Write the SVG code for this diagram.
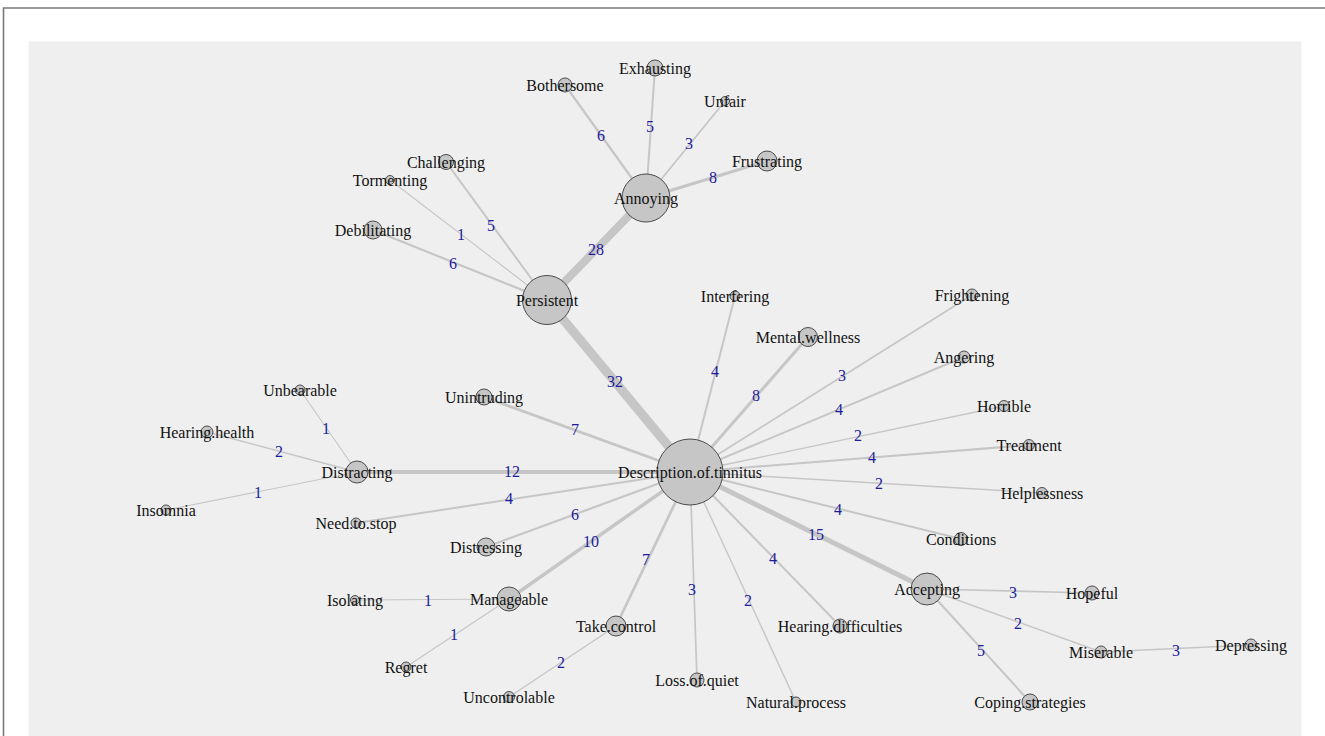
<svg xmlns="http://www.w3.org/2000/svg" width="1325" height="736" viewBox="0 0 1325 736">
<style>
.e{stroke:#c6c6c6;fill:none;stroke-linecap:butt}
.el{font-family:"Liberation Serif",serif;font-size:16px;fill:#1c1c9c;text-anchor:middle;dominant-baseline:central}
.n{fill:#c6c6c6;stroke:#3a3a3a;stroke-width:0.9}
.nl{font-family:"Liberation Serif",serif;font-size:16px;fill:#111;text-anchor:middle;dominant-baseline:central}
</style>
<rect x="0" y="0" width="1325" height="736" fill="#ffffff"/>
<path d="M3.5,736 V8 H1325" fill="none" stroke="#7a7a7a" stroke-width="1.6"/>
<rect x="28.5" y="41.5" width="1273" height="700" fill="#efefef"/>
<g id="connectors">
<line class="e" x1="547" y1="300" x2="646" y2="198" stroke-width="8"/>
<line class="e" x1="547" y1="300" x2="690" y2="472" stroke-width="9"/>
<line class="e" x1="646" y1="198" x2="565" y2="85" stroke-width="2.2"/>
<line class="e" x1="646" y1="198" x2="655" y2="68" stroke-width="2"/>
<line class="e" x1="646" y1="198" x2="725" y2="101" stroke-width="1.7"/>
<line class="e" x1="646" y1="198" x2="767" y2="161" stroke-width="3"/>
<line class="e" x1="547" y1="300" x2="446" y2="162" stroke-width="2"/>
<line class="e" x1="547" y1="300" x2="390" y2="180" stroke-width="1.1"/>
<line class="e" x1="547" y1="300" x2="373" y2="230" stroke-width="2.2"/>
<line class="e" x1="690" y1="472" x2="735" y2="296" stroke-width="2"/>
<line class="e" x1="690" y1="472" x2="808" y2="337" stroke-width="3"/>
<line class="e" x1="690" y1="472" x2="972" y2="295" stroke-width="1.7"/>
<line class="e" x1="690" y1="472" x2="964" y2="357" stroke-width="2"/>
<line class="e" x1="690" y1="472" x2="1004" y2="406" stroke-width="1.4"/>
<line class="e" x1="690" y1="472" x2="1029" y2="445" stroke-width="2"/>
<line class="e" x1="690" y1="472" x2="1042" y2="493" stroke-width="1.4"/>
<line class="e" x1="690" y1="472" x2="961" y2="539" stroke-width="2"/>
<line class="e" x1="690" y1="472" x2="927" y2="589" stroke-width="5"/>
<line class="e" x1="690" y1="472" x2="840" y2="626" stroke-width="2"/>
<line class="e" x1="690" y1="472" x2="796" y2="702" stroke-width="1.4"/>
<line class="e" x1="690" y1="472" x2="697" y2="680" stroke-width="1.7"/>
<line class="e" x1="690" y1="472" x2="616" y2="626" stroke-width="2.7"/>
<line class="e" x1="690" y1="472" x2="509" y2="599" stroke-width="3.5"/>
<line class="e" x1="690" y1="472" x2="486" y2="547" stroke-width="2.2"/>
<line class="e" x1="690" y1="472" x2="356" y2="523" stroke-width="2"/>
<line class="e" x1="690" y1="472" x2="357" y2="472" stroke-width="4"/>
<line class="e" x1="690" y1="472" x2="484" y2="397" stroke-width="2.7"/>
<line class="e" x1="357" y1="472" x2="300" y2="390" stroke-width="1.1"/>
<line class="e" x1="357" y1="472" x2="207" y2="432" stroke-width="1.4"/>
<line class="e" x1="357" y1="472" x2="166" y2="510" stroke-width="1.1"/>
<line class="e" x1="509" y1="599" x2="355" y2="600" stroke-width="1.1"/>
<line class="e" x1="509" y1="599" x2="406" y2="667" stroke-width="1.1"/>
<line class="e" x1="616" y1="626" x2="509" y2="697" stroke-width="1.4"/>
<line class="e" x1="927" y1="589" x2="1092" y2="593" stroke-width="1.7"/>
<line class="e" x1="927" y1="589" x2="1101" y2="652" stroke-width="1.4"/>
<line class="e" x1="927" y1="589" x2="1030" y2="702" stroke-width="2"/>
<line class="e" x1="1101" y1="652" x2="1251" y2="645" stroke-width="1.7"/>
<text class="el" x="596" y="249">28</text>
<text class="el" x="615" y="381">32</text>
<text class="el" x="601" y="135">6</text>
<text class="el" x="650" y="126">5</text>
<text class="el" x="689" y="143">3</text>
<text class="el" x="713" y="177">8</text>
<text class="el" x="491" y="225">5</text>
<text class="el" x="461" y="234">1</text>
<text class="el" x="453" y="263">6</text>
<text class="el" x="715" y="371">4</text>
<text class="el" x="756" y="395">8</text>
<text class="el" x="842" y="375">3</text>
<text class="el" x="839" y="409">4</text>
<text class="el" x="858" y="435">2</text>
<text class="el" x="872" y="457">4</text>
<text class="el" x="879" y="483">2</text>
<text class="el" x="838" y="509">4</text>
<text class="el" x="816" y="534">15</text>
<text class="el" x="773" y="558">4</text>
<text class="el" x="748" y="600">2</text>
<text class="el" x="692" y="589">3</text>
<text class="el" x="646" y="559">7</text>
<text class="el" x="591" y="541">10</text>
<text class="el" x="575" y="514">6</text>
<text class="el" x="509" y="498">4</text>
<text class="el" x="512" y="471">12</text>
<text class="el" x="575" y="429">7</text>
<text class="el" x="326" y="428">1</text>
<text class="el" x="279" y="451">2</text>
<text class="el" x="258" y="492">1</text>
<text class="el" x="428" y="600">1</text>
<text class="el" x="454" y="634">1</text>
<text class="el" x="561" y="662">2</text>
<text class="el" x="1013" y="592">3</text>
<text class="el" x="1018" y="623">2</text>
<text class="el" x="981" y="650">5</text>
<text class="el" x="1176" y="650">3</text>
</g>
<g id="n-description"><circle class="n" cx="690" cy="472" r="33"/><text class="nl" x="690" y="472">Description.of.tinnitus</text></g>
<g id="n-persistent"><circle class="n" cx="547" cy="300" r="24.5"/><text class="nl" x="547" y="300">Persistent</text></g>
<g id="n-annoying"><circle class="n" cx="646" cy="198" r="24"/><text class="nl" x="646" y="198">Annoying</text></g>
<g id="n-exhausting"><circle class="n" cx="655" cy="68" r="8"/><text class="nl" x="655" y="68">Exhausting</text></g>
<g id="n-bothersome"><circle class="n" cx="565" cy="85" r="7"/><text class="nl" x="565" y="85">Bothersome</text></g>
<g id="n-unfair"><circle class="n" cx="725" cy="101" r="4.5"/><text class="nl" x="725" y="101">Unfair</text></g>
<g id="n-frustrating"><circle class="n" cx="767" cy="161" r="10"/><text class="nl" x="767" y="161">Frustrating</text></g>
<g id="n-challenging"><circle class="n" cx="446" cy="162" r="7.5"/><text class="nl" x="446" y="162">Challenging</text></g>
<g id="n-tormenting"><circle class="n" cx="390" cy="180" r="4.5"/><text class="nl" x="390" y="180">Tormenting</text></g>
<g id="n-debilitating"><circle class="n" cx="373" cy="230" r="9"/><text class="nl" x="373" y="230">Debilitating</text></g>
<g id="n-interfering"><circle class="n" cx="735" cy="296" r="5"/><text class="nl" x="735" y="296">Interfering</text></g>
<g id="n-mental-wellness"><circle class="n" cx="808" cy="337" r="9.5"/><text class="nl" x="808" y="337">Mental.wellness</text></g>
<g id="n-frightening"><circle class="n" cx="972" cy="295" r="6"/><text class="nl" x="972" y="295">Frightening</text></g>
<g id="n-angering"><circle class="n" cx="964" cy="357" r="6"/><text class="nl" x="964" y="357">Angering</text></g>
<g id="n-horrible"><circle class="n" cx="1004" cy="406" r="5.5"/><text class="nl" x="1004" y="406">Horrible</text></g>
<g id="n-treatment"><circle class="n" cx="1029" cy="445" r="5.5"/><text class="nl" x="1029" y="445">Treatment</text></g>
<g id="n-helplessness"><circle class="n" cx="1042" cy="493" r="5.5"/><text class="nl" x="1042" y="493">Helplessness</text></g>
<g id="n-conditions"><circle class="n" cx="961" cy="539" r="6.5"/><text class="nl" x="961" y="539">Conditions</text></g>
<g id="n-accepting"><circle class="n" cx="927" cy="589" r="16"/><text class="nl" x="927" y="589">Accepting</text></g>
<g id="n-hopeful"><circle class="n" cx="1092" cy="593" r="7"/><text class="nl" x="1092" y="593">Hopeful</text></g>
<g id="n-miserable"><circle class="n" cx="1101" cy="652" r="6"/><text class="nl" x="1101" y="652">Miserable</text></g>
<g id="n-depressing"><circle class="n" cx="1251" cy="645" r="6"/><text class="nl" x="1251" y="645">Depressing</text></g>
<g id="n-coping-strategies"><circle class="n" cx="1030" cy="702" r="8"/><text class="nl" x="1030" y="702">Coping.strategies</text></g>
<g id="n-hearing-difficulties"><circle class="n" cx="840" cy="626" r="7"/><text class="nl" x="840" y="626">Hearing.difficulties</text></g>
<g id="n-natural-process"><circle class="n" cx="796" cy="702" r="5"/><text class="nl" x="796" y="702">Natural.process</text></g>
<g id="n-loss-of-quiet"><circle class="n" cx="697" cy="680" r="7"/><text class="nl" x="697" y="680">Loss.of.quiet</text></g>
<g id="n-take-control"><circle class="n" cx="616" cy="626" r="10"/><text class="nl" x="616" y="626">Take.control</text></g>
<g id="n-uncontrolable"><circle class="n" cx="509" cy="697" r="5.5"/><text class="nl" x="509" y="697">Uncontrolable</text></g>
<g id="n-manageable"><circle class="n" cx="509" cy="599" r="12"/><text class="nl" x="509" y="599">Manageable</text></g>
<g id="n-isolating"><circle class="n" cx="355" cy="600" r="4.5"/><text class="nl" x="355" y="600">Isolating</text></g>
<g id="n-regret"><circle class="n" cx="406" cy="667" r="5"/><text class="nl" x="406" y="667">Regret</text></g>
<g id="n-distressing"><circle class="n" cx="486" cy="547" r="9"/><text class="nl" x="486" y="547">Distressing</text></g>
<g id="n-need-to-stop"><circle class="n" cx="356" cy="523" r="5"/><text class="nl" x="356" y="523">Need.to.stop</text></g>
<g id="n-distracting"><circle class="n" cx="357" cy="472" r="11"/><text class="nl" x="357" y="472">Distracting</text></g>
<g id="n-insomnia"><circle class="n" cx="166" cy="510" r="5"/><text class="nl" x="166" y="510">Insomnia</text></g>
<g id="n-hearing-health"><circle class="n" cx="207" cy="432" r="6"/><text class="nl" x="207" y="432">Hearing.health</text></g>
<g id="n-unbearable"><circle class="n" cx="300" cy="390" r="5"/><text class="nl" x="300" y="390">Unbearable</text></g>
<g id="n-unintruding"><circle class="n" cx="484" cy="397" r="8"/><text class="nl" x="484" y="397">Unintruding</text></g>
</svg>
